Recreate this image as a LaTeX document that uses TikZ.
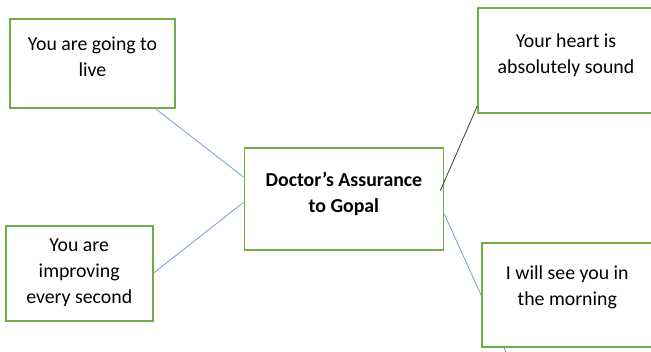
\documentclass[tikz,border=0pt]{standalone}
\usepackage{fontspec}
\setmainfont{Carlito}
\usetikzlibrary{calc}
\definecolor{boxgreen}{RGB}{112,173,71}
\definecolor{linkblue}{RGB}{125,155,215}
\definecolor{linkdark}{RGB}{60,60,60}
\tikzset{
  box/.style={draw=boxgreen, line width=1.8pt, inner sep=0pt, fill=white},
  txt/.style={align=center, inner sep=0pt, anchor=base, font=\fontsize{19.8}{26}\selectfont},
  btxt/.style={txt, font=\fontsize{19.8}{26}\selectfont\bfseries},
  bluelink/.style={draw=linkblue, line width=0.8pt},
  darklink/.style={draw=linkdark, line width=0.8pt}
}
\begin{document}
\begin{tikzpicture}[x=1pt,y=-1pt]
\useasboundingbox (0,0) rectangle (651,351);
\clip (0,0) rectangle (651,351);
\fill[white] (0,0) rectangle (651,351);
% boxes
\node[box, minimum width=165pt, minimum height=89pt] (b1) at (92.5,63.75) {};
\node[box, minimum width=199pt, minimum height=101.7pt] (b2) at (343.9,199.1) {};
\node[box, minimum width=147pt, minimum height=95.3pt] (b3) at (79.2,273.3) {};
\node[box, minimum width=176pt, minimum height=105.3pt] (b4) at (566,60.7) {};
\node[box, minimum width=170pt, minimum height=104pt] (b5) at (567.3,294.7) {};
% texts (anchor = baseline of last line)
\node[txt] (t1) at (92.5,76) {You are going to\\live};
\node[btxt] (t2) at (343.9,212) {Doctor’s Assurance\\to Gopal};
\node[txt] (t3) at (79.2,303) {You are\\improving\\every second};
\node[txt] (t4) at (566,73) {Your heart is\\absolutely sound};
\node[txt] (t5) at (567.3,305.5) {I will see you in\\the morning};
% connectors
\coordinate (free) at (508,358);
\draw[bluelink] ($(b1.south west)+(147,0)$) -- ($(b2.north west)+(0,29.7)$);
\draw[bluelink] ($(b3.north east)+(0,48.3)$) -- ($(b2.north west)+(0,55)$);
\draw[darklink] ($(b2.north east)+(-4,43.4)$) -- ($(b4.south west)+(0,-7.9)$);
\draw[bluelink] ($(b2.north east)+(0,66.7)$) -- ($(b5.north west)+(0,54)$);
\draw[bluelink] ($(b5.south west)+(22.7,0)$) -- (free);
\end{tikzpicture}
\end{document}
